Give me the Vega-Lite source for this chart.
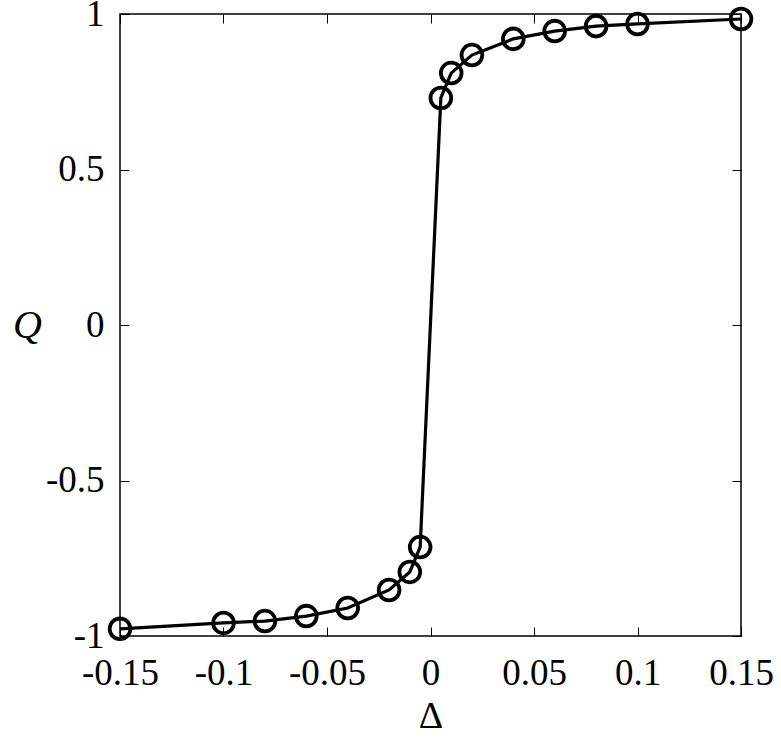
{
  "$schema": "https://vega.github.io/schema/vega-lite/v6.json",
  "width": 621,
  "height": 622,
  "autosize": {"type": "none"},
  "padding": {"left": 120, "top": 14, "right": 40, "bottom": 107},
  "background": "white",
  "config": {
    "view": {"stroke": "black", "strokeWidth": 1.5},
    "font": "Liberation Serif",
    "axis": {
      "grid": false,
      "domain": false,
      "tickColor": "black",
      "tickSize": -9,
      "tickWidth": 1,
      "labelFont": "Liberation Serif",
      "labelFontSize": 37,
      "labelColor": "black",
      "titleFont": "Liberation Serif",
      "titleColor": "black",
      "titleFontWeight": "normal"
    }
  },
  "data": {
    "values": [
      {"d": -0.15, "q": -0.977},
      {"d": -0.1, "q": -0.958},
      {"d": -0.08, "q": -0.952},
      {"d": -0.06, "q": -0.936},
      {"d": -0.04, "q": -0.910},
      {"d": -0.02, "q": -0.852},
      {"d": -0.01, "q": -0.794},
      {"d": -0.005, "q": -0.714},
      {"d": 0.005, "q": 0.730},
      {"d": 0.01, "q": 0.810},
      {"d": 0.02, "q": 0.868},
      {"d": 0.04, "q": 0.920},
      {"d": 0.06, "q": 0.945},
      {"d": 0.08, "q": 0.961},
      {"d": 0.1, "q": 0.968},
      {"d": 0.15, "q": 0.984}
    ]
  },
  "layer": [
    {
      "mark": {"type": "line", "color": "black", "strokeWidth": 3.2},
      "encoding": {
        "x": {
          "field": "d", "type": "quantitative",
          "scale": {"domain": [-0.15, 0.15], "nice": false, "zero": false},
          "axis": {
            "orient": "bottom",
            "values": [-0.15, -0.1, -0.05, 0, 0.05, 0.1, 0.15],
            "labelExpr": "toString(datum.value)",
            "labelFontSize": 37,
            "labelPadding": 28,
            "labelFlush": false,
            "labelOverlap": false,
            "title": "Δ",
            "titleFontSize": 38,
            "titlePadding": 6
          }
        },
        "y": {
          "field": "q", "type": "quantitative",
          "scale": {"domain": [-1, 1], "nice": false},
          "axis": {
            "orient": "left",
            "values": [-1, -0.5, 0, 0.5, 1],
            "labelExpr": "toString(datum.value)",
            "labelFontSize": 37,
            "labelPadding": 25,
            "labelFlush": false,
            "labelOverlap": false,
            "title": "Q",
            "titleFontSize": 40,
            "titleFontStyle": "italic",
            "titleAngle": 0,
            "titleAlign": "center",
            "titleBaseline": "middle",
            "titleX": -93,
            "titleY": 311
          }
        }
      }
    },
    {
      "mark": {"type": "point", "shape": "circle", "filled": false, "color": "black", "strokeWidth": 3.8, "size": 430, "opacity": 1},
      "encoding": {
        "x": {
          "field": "d", "type": "quantitative",
          "axis": {"orient": "top", "values": [-0.15, -0.1, -0.05, 0, 0.05, 0.1, 0.15], "labels": false, "title": null}
        },
        "y": {
          "field": "q", "type": "quantitative",
          "axis": {"orient": "right", "values": [-1, -0.5, 0, 0.5, 1], "labels": false, "title": null}
        }
      }
    }
  ]
}
